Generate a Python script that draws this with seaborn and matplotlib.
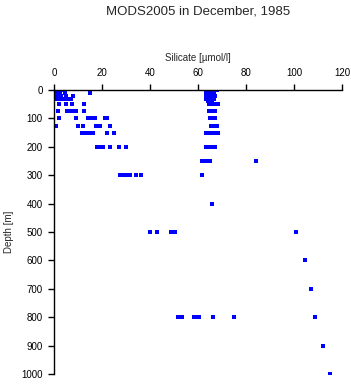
import pandas as pd
import matplotlib
matplotlib.use('Agg')
import matplotlib.pyplot as plt
import seaborn as sns

TITLE = 'MODS2005 in December, 1985'
X_LABEL = 'Silicate [µmol/l]'
Y_LABEL = 'Depth [m]'
X_TICKS = [0, 20, 40, 60, 80, 100, 120]
Y_TICKS = [0, 100, 200, 300, 400, 500, 600, 700, 800, 900, 1000]

# shallow stations (low silicate)
shallow_depth = [0, 0, 0, 0, 0, 0,
                 10, 10, 10, 10, 10,
                 20, 20, 20, 20, 20,
                 30, 30, 30, 30, 30, 30,
                 50, 50, 50, 50,
                 75, 75, 75, 75, 75, 75,
                 100, 100, 100, 100, 100, 100, 100,
                 125, 125, 125, 125, 125, 125, 125,
                 150, 150, 150, 150, 150, 150, 150,
                 200, 200, 200, 200, 200, 200,
                 300, 300, 300, 300, 300, 300,
                 500, 500, 500, 500, 500,
                 800, 800, 800]
shallow_si = [0.5, 1.0, 1.5, 2.2, 3.0, 3.9,
              0.8, 1.5, 2.5, 4.5, 15.0,
              1.0, 2.0, 3.0, 5.0, 8.0,
              0.7, 1.5, 2.5, 4.0, 6.0, 7.0,
              2.2, 5.0, 7.4, 12.3,
              1.8, 5.6, 6.5, 7.9, 9.2, 12.3,
              2.2, 9.2, 14.0, 16.0, 17.0, 21.4, 22.1,
              0.8, 10.2, 12.0, 17.5, 18.5, 19.3, 23.2,
              11.8, 12.8, 13.7, 15.1, 16.3, 22.1, 25.2,
              18.0, 19.0, 20.5, 23.2, 27.0, 30.0,
              27.7, 28.8, 30.0, 31.5, 34.0, 36.1,
              40.0, 43.0, 48.7, 49.5, 50.5,
              51.5, 52.5, 53.5]

# deep stations (high silicate)
deep_depth = [0, 0, 0, 0, 0,
              10, 10, 10, 10,
              20, 20, 20, 20, 20,
              30, 30, 30, 30,
              40, 40, 40,
              50, 50, 50, 50, 50,
              75, 75, 75, 75,
              100, 100, 100, 100,
              125, 125, 125, 125,
              150, 150, 150, 150, 150, 150,
              200, 200, 200, 200, 200,
              250, 250, 250, 250, 250, 250,
              300, 400, 500, 600, 700,
              800, 800, 800, 800, 800, 800, 800,
              900, 1000]
deep_si = [64.0, 65.0, 66.0, 67.0, 68.0,
           63.5, 64.5, 65.5, 66.5,
           63.5, 64.5, 65.5, 66.5, 67.2,
           63.5, 64.5, 65.5, 66.5,
           64.0, 65.0, 66.0,
           64.5, 65.5, 66.5, 67.5, 68.3,
           64.5, 65.5, 66.5, 67.0,
           64.8, 65.5, 66.5, 67.0,
           65.5, 66.3, 67.0, 67.8,
           63.5, 64.5, 65.2, 66.5, 67.5, 68.3,
           63.5, 64.3, 65.8, 66.5, 67.0,
           61.5, 62.3, 63.5, 64.5, 65.2, 84.0,
           61.8, 66.0, 101.0, 104.7, 106.9,
           52.9, 58.5, 59.5, 60.6, 66.1, 74.9, 108.7,
           111.9, 114.8]

df = pd.DataFrame({'Depth': shallow_depth + deep_depth,
                   'Silicate': shallow_si + deep_si})

sns.set_style('ticks')
plt.rcParams['font.family'] = ['Liberation Sans', 'DejaVu Sans']

fig = plt.figure(figsize=(3.51, 3.84), dpi=100)
ax = fig.add_axes([54 / 351, 1 - 374 / 384, 288 / 351, 284 / 384])

sns.scatterplot(data=df, x='Silicate', y='Depth', ax=ax,
                marker='s', s=5, color='#0000ff', linewidth=0)

ax.set_xlim(0, 120)
ax.set_ylim(1000, 0)
ax.set_xticks(X_TICKS)
ax.set_yticks(Y_TICKS)
ax.xaxis.tick_top()
ax.xaxis.set_label_position('top')
ax.spines['right'].set_visible(False)
ax.spines['bottom'].set_visible(False)
for sp in ['left', 'top']:
    ax.spines[sp].set_color('black')
    ax.spines[sp].set_linewidth(1.0)
ax.tick_params(axis='both', direction='out', length=4, width=1,
               labelsize=7, color='black', labelcolor='black')
ax.tick_params(axis='x', pad=5)
ax.tick_params(axis='y', pad=4)

ax.set_xlabel(X_LABEL, fontsize=7, labelpad=5)
ax.set_ylabel(Y_LABEL, fontsize=7, labelpad=5)
fig.text(198 / 351, 1 - 11 / 384, TITLE, fontsize=9.5,
         ha='center', va='center')

plt.savefig('out.png', dpi=100)
